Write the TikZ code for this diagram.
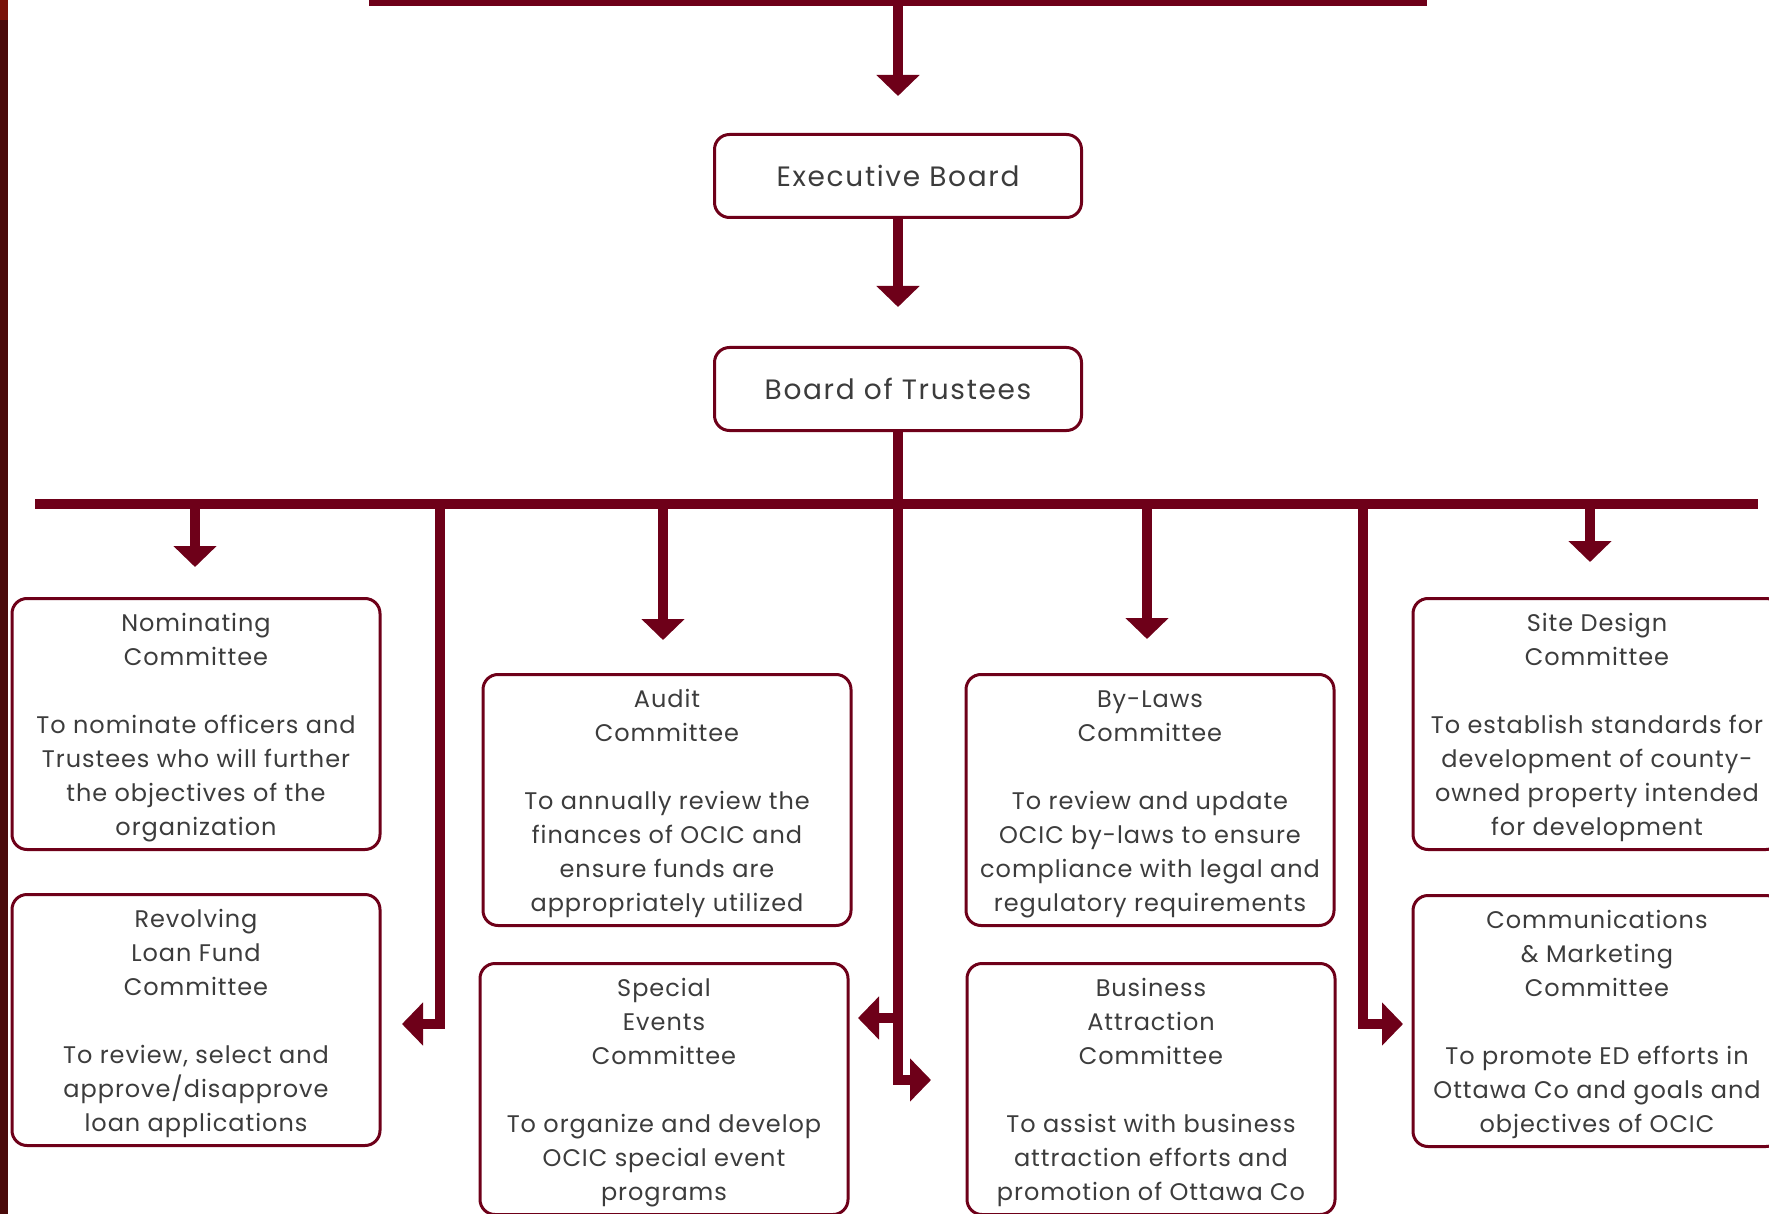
\documentclass[tikz,border=0pt]{standalone}
\usepackage{fontspec}
\setmainfont{Poppins}
\usepackage{tikz}
\usetikzlibrary{arrows.meta}
\definecolor{ocicred}{RGB}{110,0,25}
\definecolor{ocictext}{RGB}{60,60,60}
\definecolor{ocicedge}{RGB}{74,10,10}
\definecolor{ocictop}{RGB}{122,18,8}
\newcommand{\ctop}{\rule{0pt}{25pt}}

\begin{document}
\begin{tikzpicture}[x=1pt,y=-1pt,
    board/.style={draw=ocicred,line width=3pt,rounded corners=15pt,fill=white,text=ocictext,
        minimum width=367pt,minimum height=83pt,inner sep=0pt,
        font=\fontsize{28}{34}\selectfont\addfontfeatures{LetterSpace=6}},
    cttee/.style={draw=ocicred,line width=3pt,rounded corners=15pt,fill=white,text=ocictext,align=center,
        minimum width=368pt,minimum height=251pt,inner sep=0pt,
        font=\fontsize{24}{34}\selectfont\addfontfeatures{LetterSpace=4}},
    bar/.style={draw=ocicred,line width=10pt},
    barto/.style={bar,-{Triangle[width=42pt,length=21pt]}}]
\useasboundingbox (0,0) rectangle (1769,1214);
\fill[ocicedge] (0,0) rectangle (8,1214);
\fill[ocictop] (0,0) rectangle (8,20);

\node[board] (exec) at (898,176) {Executive Board};
\node[board] (trust) at (898,389) {Board of Trustees};

\node[cttee] (nom) at (196,724) {\ctop Nominating\\Committee\\[34pt]To nominate officers and\\Trustees who will further\\the objectives of the\\organization};
\node[cttee] (loan) at (196,1020) {\ctop Revolving\\Loan Fund\\Committee\\[34pt]To review, select and\\approve/disapprove\\loan applications};
\node[cttee] (audit) at (667,800) {\ctop Audit\\Committee\\[34pt]To annually review the\\finances of OCIC and\\ensure funds are\\appropriately utilized};
\node[cttee] (events) at (664,1089) {\ctop Special\\Events\\Committee\\[34pt]To organize and develop\\OCIC special event\\programs};
\node[cttee] (laws) at (1150,800) {\ctop By-Laws\\Committee\\[34pt]To review and update\\OCIC by-laws to ensure\\compliance with legal and\\regulatory requirements};
\node[cttee] (biz) at (1151,1089) {\ctop Business\\Attraction\\Committee\\[34pt]To assist with business\\attraction efforts and\\promotion of Ottawa Co};
\node[cttee] (site) at (1597,724) {\ctop Site Design\\Committee\\[34pt]To establish standards for\\development of county-\\owned property intended\\for development};
\node[cttee] (comm) at (1597,1021) {\ctop Communications\\\& Marketing\\Committee\\[34pt]To promote ED efforts in\\Ottawa Co and goals and\\objectives of OCIC};

\coordinate (topL) at (369,1);
\coordinate (topR) at (1427,1);
\coordinate (busL) at (35,504);
\coordinate (busR) at (1758,504);
\coordinate (tipExec) at (898,96);
\coordinate (tipTrust) at (898,307);
\coordinate (tipNom) at (195,567);
\coordinate (tipAudit) at (663,640);
\coordinate (tipLaws) at (1147,639);
\coordinate (tipSite) at (1590,562);
\coordinate (dropL) at (440,504);
\coordinate (dropR) at (1363,504);
\coordinate (tipLoan) at (402,1024);
\coordinate (tipComm) at (1403,1024);
\coordinate (tipEvents) at (858,1018);
\coordinate (tipBiz) at (931,1080);

\draw[bar] (topL) -- (topR);
\draw[barto] (tipExec |- topL) -- (tipExec);
\draw[barto] (exec.south) -- (tipTrust);
\draw[bar] (busL) -- (busR);
\draw[barto] (tipNom |- busL) -- (tipNom);
\draw[barto] (tipAudit |- busL) -- (tipAudit);
\draw[barto] (tipLaws |- busL) -- (tipLaws);
\draw[barto] (tipSite |- busL) -- (tipSite);
\draw[barto] (dropL) |- (tipLoan);
\draw[barto] (dropR) |- (tipComm);
\draw[barto] (trust.south) |- (tipBiz);
\draw[barto] (trust.south |- tipEvents) -- (tipEvents);
\end{tikzpicture}
\end{document}
